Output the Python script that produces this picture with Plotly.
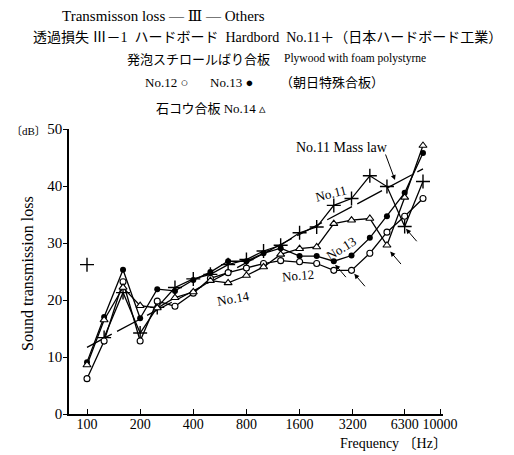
import math
import plotly.graph_objects as go

# ---------------- data ----------------
freqs = [100, 125, 160, 200, 250, 315, 400, 500, 630, 800, 1000, 1250,
         1600, 2000, 2500, 3150, 4000, 5000, 6300, 8000]
no11 = [26.2, 13.4, 21.3, 14.2, 18.7, 22.2, 23.7, 24.5, 26.2, 27.1, 28.6, 29.6,
        31.8, 32.8, 36.6, 37.8, 41.8, 39.9, 32.9, 40.8]
no12 = [6.2, 12.8, 23.2, 12.8, 19.8, 18.9, 21.2, 23.8, 24.8, 25.6, 26.4, 26.9,
        26.7, 26.4, 25.2, 25.2, 28.2, 31.9, 34.7, 37.8]
no13 = [9.1, 17.0, 25.3, 16.8, 21.9, 21.6, 23.5, 24.9, 26.8, 26.8, 28.2, 29.1,
        27.7, 27.7, 26.8, 27.8, 30.9, 34.7, 38.8, 45.8]
no14 = [8.6, 16.5, 22.2, 19.0, 18.6, 20.4, 21.4, 23.4, 23.0, 24.3, 25.8, 28.0,
        29.0, 29.3, 33.4, 34.0, 34.3, 29.6, 38.0, 47.1]
mass_law_freqs = [100, 8000]
mass_law_db = [11.7, 43.0]
x_tick_vals = [100, 200, 400, 800, 1600, 3200, 6300, 10000]
x_tick_text = ["100", "200", "400", "800", "1600", "3200", "6300", "10000"]
y_tick_vals = [0, 10, 20, 30, 40, 50]

# dips marked with arrows (frequency, dB)
dip_freqs = [2546, 3263, 5221, 6410]
dip_db = [26.2, 24.6, 28.5, 32.5]

# ---------------- layout helpers ----------------
# the page body has an 8px margin, so the figure is drawn 8px in from the corner
OFF = 8
W, H = 514 - OFF, 455 - OFF
PLOT_L, PLOT_R, PLOT_T, PLOT_B = 69, 443, 129, 414   # in window pixels
L = PLOT_L - OFF
T = PLOT_T - OFF
PW = PLOT_R - PLOT_L
PH = PLOT_B - PLOT_T
R = W - L - PW
B = H - T - PH
SERIF = "Liberation Serif, DejaVu Serif, Noto Sans CJK JP, serif"
CJK = "Liberation Serif, Noto Sans CJK JP, serif"


def px(xp):
    return (xp - PLOT_L) / PW


def py(yp):
    return (PLOT_B - yp) / PH


fig = go.Figure()
LW = 1.3

# mass law line
fig.add_trace(go.Scatter(x=mass_law_freqs, y=mass_law_db, mode="lines",
                         line=dict(color="black", width=1.3, dash="28px,6px"),
                         showlegend=False, hoverinfo="skip"))

# No.11 (+): the 100 Hz point stands alone
fig.add_trace(go.Scatter(x=freqs[1:], y=no11[1:], mode="lines",
                         line=dict(color="black", width=LW), showlegend=False))
fig.add_trace(go.Scatter(x=freqs, y=no11, mode="markers",
                         marker=dict(symbol="cross-thin-open", size=10, color="black",
                                     line=dict(color="black", width=1.4)),
                         showlegend=False, cliponaxis=False))
# No.12 (open circle)
fig.add_trace(go.Scatter(x=freqs, y=no12, mode="lines+markers",
                         line=dict(color="black", width=LW),
                         marker=dict(symbol="circle", size=6, color="white",
                                     line=dict(color="black", width=1.1)),
                         showlegend=False, cliponaxis=False))
# No.13 (filled circle)
fig.add_trace(go.Scatter(x=freqs, y=no13, mode="lines+markers",
                         line=dict(color="black", width=LW),
                         marker=dict(symbol="circle", size=6, color="black"),
                         showlegend=False, cliponaxis=False))
# No.14 (open triangle)
fig.add_trace(go.Scatter(x=freqs, y=no14, mode="lines+markers",
                         line=dict(color="black", width=LW),
                         marker=dict(symbol="triangle-up", size=7, color="white",
                                     line=dict(color="black", width=1.1)),
                         showlegend=False, cliponaxis=False))

ann = []


def text(s, x, y, size=13, angle=0, family=SERIF):
    ann.append(dict(text=s, x=px(x), y=py(y), xref="paper", yref="paper",
                    showarrow=False, xanchor="center", yanchor="middle",
                    textangle=angle, font=dict(family=family, size=size, color="black")))


# heading lines
text("Transmisson loss — Ⅲ — Others", 163, 16, size=15)
text("透過損失 Ⅲ－1  ハードボード  Hardbord  No.11＋（日本ハードボード工業）", 267, 37, size=14, family=CJK)
text("発泡スチロールばり合板", 198, 60, size=13, family=CJK)
text("Plywood with foam polystyrne", 355, 59, size=11.5)
text("No.12 ○", 166, 83, size=13, family=CJK)
text("No.13 ●", 231, 83, size=13, family=CJK)
text("（朝日特殊合板）", 332, 83, size=13, family=CJK)
text("石コウ合板 No.14 ▵", 211, 108, size=13, family=CJK)

# in-plot labels
text("No.11 Mass law", 342, 147, size=14)
text("No.11", 331, 193, size=13, angle=-14)
text("No.13", 341, 248, size=13, angle=-32)
text("No.12", 298, 275, size=13, angle=-5)
text("No.14", 233, 298, size=13, angle=-10)

# axis titles
text("Sound transmission loss", 27, 274, size=16, angle=-90)
text("〔dB〕", 28, 131, size=11, family=CJK)
text("Frequency 〔Hz〕", 393, 443, size=14, family=CJK)

# mass law pointer
ann.append(dict(text="", x=px(395), y=py(180), xref="paper", yref="paper",
                ax=-10, ay=-27, showarrow=True, arrowhead=2, arrowsize=1,
                arrowwidth=1, arrowcolor="black", standoff=0))
# dip arrows
for f, v in zip(dip_freqs, dip_db):
    ann.append(dict(text="", x=math.log10(f), y=v, xref="x", yref="y",
                    ax=12, ay=14, showarrow=True, arrowhead=2, arrowsize=1,
                    arrowwidth=1, arrowcolor="black", standoff=0))

fig.update_layout(
    width=W, height=H,
    margin=dict(l=L, r=R, t=T, b=B, autoexpand=False),
    plot_bgcolor="white", paper_bgcolor="white",
    font=dict(family=SERIF, size=14, color="black"),
    annotations=ann,
    xaxis=dict(type="log", range=[math.log10(79.08), math.log10(10386)],
               tickvals=x_tick_vals, ticktext=x_tick_text,
               ticks="inside", ticklen=5, tickwidth=1.2, tickcolor="black",
               ticklabelstandoff=-4,
               showline=True, linecolor="black", linewidth=1.5,
               showgrid=False, zeroline=False,
               tickfont=dict(family=SERIF, size=14)),
    yaxis=dict(range=[0, 50], tickvals=y_tick_vals,
               ticks="outside", ticklen=4, tickwidth=1.2, tickcolor="black",
               ticklabelstandoff=-2,
               showline=True, linecolor="black", linewidth=1.5,
               showgrid=False, zeroline=False,
               tickfont=dict(family=SERIF, size=15)),
)

fig.write_html("out.html")
